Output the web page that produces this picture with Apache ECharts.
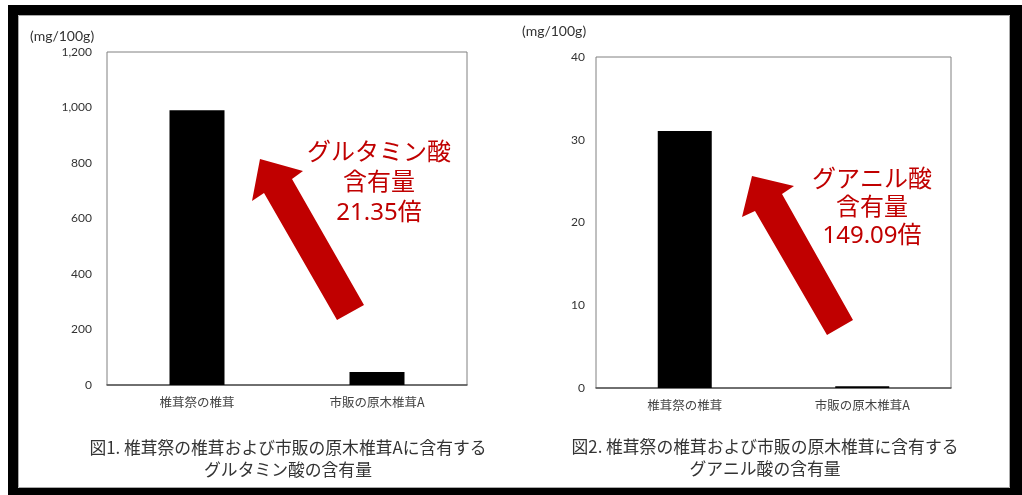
<!DOCTYPE html>
<html>
<head>
<meta charset="utf-8">
<script src="https://cdn.jsdelivr.net/npm/echarts@6/dist/echarts.min.js"></script>
<style>
  html, body { margin: 0; padding: 0; background: #fff; }
  #chart { width: 1022px; height: 495px; }
</style>
</head>
<body>
<div id="chart"></div>
<script>
// Categories shared by both panels
const categories = ['椎茸祭の椎茸', '市販の原木椎茸A'];

// Fig.1: glutamic acid content (mg/100g)
const glutamicValues = [990, 46.4];
const glutamicTicks = { min: 0, max: 1200, interval: 200 };

// Fig.2: guanylic acid content (mg/100g)
const guanylicValues = [31.06, 0.21];
const guanylicTicks = { min: 0, max: 40, interval: 10 };

const unitLabel = '(mg/100g)';
const captions1 = ['図1. 椎茸祭の椎茸および市販の原木椎茸Aに含有する', 'グルタミン酸の含有量'];
const captions2 = ['図2. 椎茸祭の椎茸および市販の原木椎茸に含有する', 'グアニル酸の含有量'];
const note1 = ['グルタミン酸', '含有量', '21.35倍'];
const note2 = ['グアニル酸', '含有量', '149.09倍'];

const RED = '#C00000';
const latin = 'Lato, "Noto Sans", sans-serif';
const cjk = '"Noto Sans CJK JP", sans-serif';
const noteFont = '"Noto Sans", "Noto Sans CJK JP", sans-serif';

const chart = echarts.init(document.getElementById('chart'), null, { renderer: 'canvas' });

function yAxis(idx, t, margin) {
  return {
    type: 'value', gridIndex: idx, min: t.min, max: t.max, interval: t.interval,
    axisLine: { show: false }, axisTick: { show: false }, splitLine: { show: false },
    axisLabel: {
      margin: margin, color: '#333', fontSize: 12, fontFamily: latin,
      formatter: v => v.toLocaleString('en-US')
    }
  };
}
function xAxis(idx) {
  return {
    type: 'category', gridIndex: idx, data: categories,
    axisLine: { show: true, lineStyle: { color: '#555', width: 1.5 } },
    axisTick: { show: false },
    axisLabel: { margin: 11, color: '#444', fontSize: 12.5, fontFamily: cjk }
  };
}

function textLines(lines, cx, ys, font, color) {
  return lines.map((s, i) => ({
    type: 'text', x: cx, y: ys[i], silent: true,
    style: { text: s, fill: color, font: font, textAlign: 'center', textVerticalAlign: 'middle' }
  }));
}

// Black outer frame around both figures
const frame = [
  { type: 'rect', shape: { x: 8, y: 5, width: 1014, height: 10 }, style: { fill: '#000' } },
  { type: 'rect', shape: { x: 8, y: 5, width: 10, height: 490 }, style: { fill: '#000' } },
  { type: 'rect', shape: { x: 1010, y: 5, width: 12, height: 490 }, style: { fill: '#000' } },
  { type: 'rect', shape: { x: 8, y: 488, width: 1014, height: 7 }, style: { fill: '#000' } },
  { type: 'rect', shape: { x: 18.5, y: 15.5, width: 991, height: 472 }, style: { fill: 'none', stroke: '#aaa', lineWidth: 1 } }
];

// Red annotation arrows pointing up-left toward the taller bar
const arrow1 = {
  type: 'polygon', silent: true,
  shape: { points: [[260, 159], [303, 171], [292, 179], [364, 305], [337, 320], [264, 193], [252, 201]] },
  style: { fill: RED }
};
const arrow2 = {
  type: 'polygon', silent: true,
  shape: { points: [[752, 176], [794, 186], [782, 194], [853, 320], [827, 335], [755, 211], [742, 217]] },
  style: { fill: RED }
};

const option = {
  backgroundColor: '#fff',
  animation: false,
  grid: [
    { left: 107, top: 52, width: 360, height: 333, show: true, borderColor: '#808080', borderWidth: 1, backgroundColor: 'transparent' },
    { left: 596, top: 57, width: 355, height: 331, show: true, borderColor: '#808080', borderWidth: 1, backgroundColor: 'transparent' }
  ],
  xAxis: [xAxis(0), xAxis(1)],
  yAxis: [yAxis(0, glutamicTicks, 15), yAxis(1, guanylicTicks, 11)],
  series: [
    { type: 'bar', xAxisIndex: 0, yAxisIndex: 0, data: glutamicValues, barWidth: 55, itemStyle: { color: '#000' } },
    { type: 'bar', xAxisIndex: 1, yAxisIndex: 1, data: guanylicValues, barWidth: 54, itemStyle: { color: '#000' } }
  ],
  graphic: [].concat(
    frame,
    [
      { type: 'text', x: 30, y: 36, style: { text: unitLabel, fill: '#333', font: '14px ' + latin, textVerticalAlign: 'middle' } },
      { type: 'text', x: 522, y: 31, style: { text: unitLabel, fill: '#333', font: '14px ' + latin, textVerticalAlign: 'middle' } },
      arrow1, arrow2
    ],
    textLines(note1, 379, [153, 183, 213], '24px ' + noteFont, RED),
    textLines(note2, 872, [180, 208, 236], '24px ' + noteFont, RED),
    textLines(captions1, 288, [448, 470], '16.8px ' + cjk, '#333'),
    textLines(captions2, 765, [447, 469], '16.8px ' + cjk, '#333')
  )
};

chart.setOption(option);
</script>
</body>
</html>
